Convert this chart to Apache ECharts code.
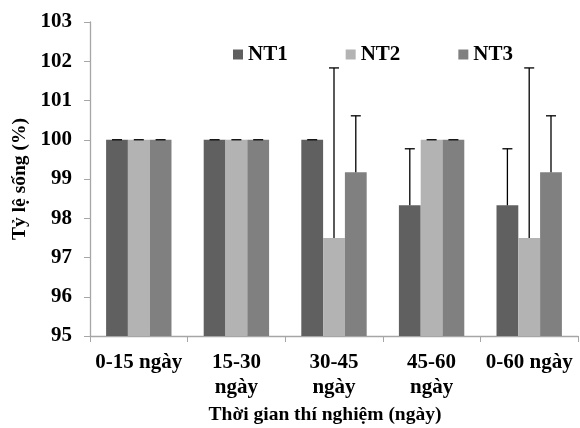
<!DOCTYPE html>
<html>
<head>
<meta charset="utf-8">
<script src="https://cdn.jsdelivr.net/npm/echarts@6/dist/echarts.min.js"></script>
<style>html,body{margin:0;padding:0;background:#fff}#c{width:580px;height:428px}</style>
</head>
<body>
<div id="c"></div>
<script>
var categories = ['0-15 ngày', '15-30\nngày', '30-45\nngày', '45-60\nngày', '0-60 ngày'];
var seriesNames = ['NT1', 'NT2', 'NT3'];
var nt1 = [100, 100, 100, 98.33, 98.33];
var nt2 = [100, 100, 97.5, 100, 97.5];
var nt3 = [100, 100, 99.17, 100, 99.17];
var err1 = [0, 0, 0, 1.44, 1.44];
var err2 = [0, 0, 4.33, 0, 4.33];
var err3 = [0, 0, 1.44, 0, 1.44];
var yTicks = [95, 96, 97, 98, 99, 100, 101, 102, 103];

var colors = ['#606060', '#b3b3b3', '#808080'];
var values = [nt1, nt2, nt3];
var errs = [err1, err2, err3];
var gapFrac = 0.33;
var font = {fontFamily: 'Liberation Serif', fontWeight: 'bold', fontSize: 21, color: '#000'};
var nameFont = {fontFamily: 'Liberation Serif', fontWeight: 'bold', fontSize: 19.5, color: '#000'};

var series = [];
seriesNames.forEach(function (name, s) {
  series.push({
    name: name, type: 'bar', data: values[s],
    itemStyle: {color: colors[s]},
    barGap: '0%', barCategoryGap: (gapFrac * 100) + '%'
  });
});
seriesNames.forEach(function (name, s) {
  var data = values[s].map(function (v, i) { return [i, v, v + errs[s][i]]; });
  series.push({
    type: 'custom', silent: true, z: 5,
    data: data,
    renderItem: function (params, api) {
      var idx = api.value(0);
      var band = api.size([1, 0])[0];
      var bw = band * (1 - gapFrac) / 3;
      var base = api.coord([idx, api.value(1)]);
      var top = api.coord([idx, api.value(2)]);
      var x = base[0] + (s - 1) * bw;
      var half = 5;
      var st = {stroke: '#000', lineWidth: 1.3};
      return {
        type: 'group',
        children: [
          {type: 'line', shape: {x1: x, y1: base[1], x2: x, y2: top[1]}, style: st},
          {type: 'line', shape: {x1: x - half, y1: top[1], x2: x + half, y2: top[1]}, style: st}
        ]
      };
    }
  });
});

var chart = echarts.init(document.getElementById('c'));
chart.setOption({
  animation: false,
  backgroundColor: '#fff',
  textStyle: {fontFamily: 'Liberation Serif'},
  legend: {
    data: seriesNames, left: 228, top: 39, itemWidth: 10, itemHeight: 10,
    itemGap: 58, icon: 'rect', textStyle: font
  },
  grid: {left: 90, right: 2, top: 22, bottom: 92, containLabel: false, outerBoundsMode: 'none'},
  xAxis: {
    type: 'category', data: categories,
    axisLine: {lineStyle: {color: '#a6a6a6', width: 1.3}},
    axisTick: {show: true, length: 6, lineStyle: {color: '#a6a6a6'}},
    axisLabel: Object.assign({margin: 14, lineHeight: 25, interval: 0}, font),
    name: 'Thời gian thí nghiệm (ngày)', nameLocation: 'middle', nameGap: 67,
    nameTextStyle: Object.assign({padding: [0, 18, 0, 0]}, nameFont)
  },
  yAxis: {
    type: 'value', min: yTicks[0], max: yTicks[yTicks.length - 1], interval: 1,
    axisLine: {show: true, lineStyle: {color: '#a6a6a6', width: 1.3}},
    axisTick: {show: true, length: 6, lineStyle: {color: '#a6a6a6'}},
    splitLine: {show: false},
    axisLabel: Object.assign({margin: 18}, font),
    name: 'Tỷ lệ sống (%)', nameLocation: 'middle', nameGap: 52,
    nameTextStyle: nameFont
  },
  series: series
});
</script>
</body>
</html>
